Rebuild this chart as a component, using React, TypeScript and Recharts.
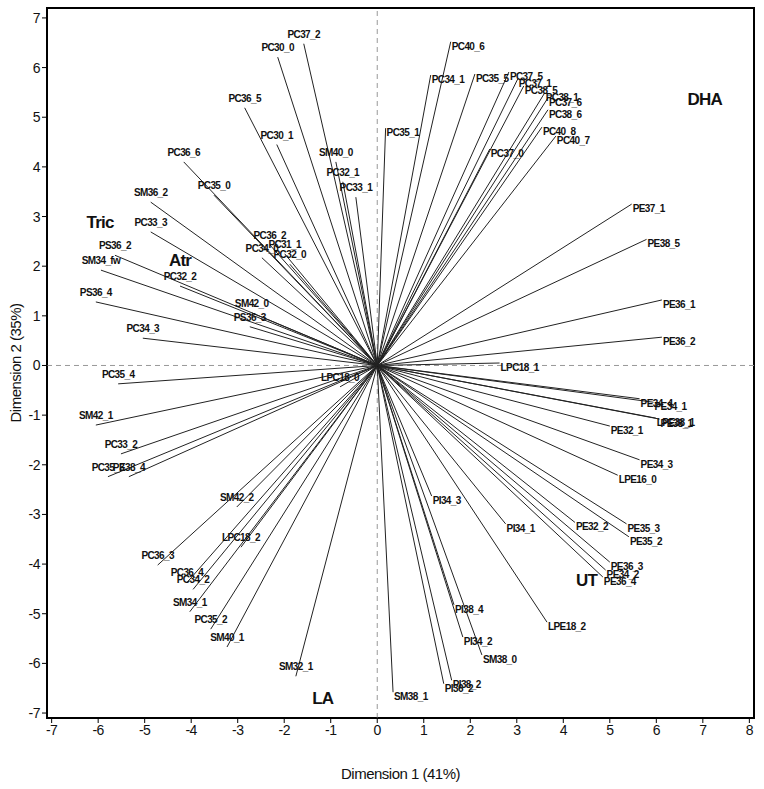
import { ScatterChart, Scatter, XAxis, YAxis, ReferenceLine, ReferenceArea } from 'recharts'

const names = [
  'PC40_6', 'PC34_1', 'PC35_5', 'PC37_5', 'PC37_1', 'PC38_5', 'PC38_1', 'PC37_6', 'PC38_6', 'PC40_8',
  'PC40_7', 'PC37_0', 'PC35_1', 'PE37_1', 'PE38_5', 'PE36_1', 'PE36_2', 'LPC18_1',
  'PE34_4', 'PE34_1', 'LPE38_1', 'PE38_1', 'PE32_1', 'PE34_3', 'LPE16_0', 'PE32_2', 'PE35_3', 'PE35_2',
  'PI34_1', 'PI34_3', 'PE36_3', 'PE34_2', 'PE36_4', 'LPE18_2', 'PI38_4', 'PI34_2', 'SM38_0', 'PI38_2',
  'PI36_2', 'SM38_1',
  'PC35_4', 'LPC18_0', 'SM42_1', 'PC33_2', 'PC35_3', 'PE38_4', 'SM42_2', 'LPC18_2', 'PC36_3', 'PC36_4',
  'PC34_2', 'SM34_1', 'PC35_2', 'SM40_1', 'SM32_1',
  'PC37_2', 'PC30_0', 'PC36_5', 'PC30_1', 'SM40_0', 'PC32_1', 'PC33_1', 'PC36_6', 'PC35_0', 'SM36_2',
  'PC33_3', 'PS36_2', 'SM34_fw', 'PC32_2', 'PS36_4', 'SM42_0', 'PS36_3', 'PC34_3', 'PC36_2', 'PC34_0',
  'PC31_1', 'PC32_0',
]

const dim1 = [
  1.58, 1.15, 2.1, 2.83, 3.02, 3.15, 3.6, 3.67, 3.67, 3.54,
  3.84, 2.42, 0.18, 5.47, 5.79, 6.12, 6.12, 2.63,
  5.64, 5.94, 5.99, 6.07, 5.0, 5.64, 5.17, 4.25, 5.36, 5.41,
  2.76, 1.17, 5.0, 4.91, 4.85, 3.65, 1.65, 1.84, 2.25, 1.6,
  1.43, 0.34,
  -5.57, -0.8, -6.05, -5.51, -5.79, -5.34, -3.02, -2.93, -4.72, -4.09,
  -3.96, -4.03, -3.58, -3.23, -1.75,
  -1.58, -2.14, -2.85, -2.16, -0.89, -0.74, -0.46, -4.16, -3.51, -4.87,
  -4.87, -5.64, -5.94, -4.24, -6.05, -2.7, -2.74, -5.04, -2.31, -2.48,
  -1.99, -1.88,
]

const dim2 = [
  6.52, 5.85, 5.87, 5.91, 5.77, 5.63, 5.49, 5.39, 5.15, 4.8,
  4.62, 4.36, 4.78, 3.25, 2.54, 1.32, 0.57, 0.05,
  -0.67, -0.74, -1.06, -1.08, -1.22, -1.9, -2.21, -3.16, -3.19, -3.45,
  -3.19, -2.63, -3.96, -4.12, -4.26, -5.17, -4.82, -5.47, -5.83, -6.34,
  -6.41, -6.58,
  -0.37, -0.43, -1.2, -1.78, -2.24, -2.24, -2.85, -3.66, -4.02, -4.37,
  -4.51, -4.96, -5.31, -5.67, -6.26,
  6.48, 6.21, 5.19, 4.45, 4.1, 3.7, 3.39, 4.1, 3.43, 3.29,
  2.69, 2.22, 1.92, 1.6, 1.28, 1.06, 0.78, 0.55, 2.43, 2.17,
  2.25, 2.04,
]

const groupNames = ['DHA', 'Tric', 'Atr', 'LA', 'UT']
const groupDim1 = [7.04, -5.96, -4.24, -1.17, 4.5]
const groupDim2 = [5.37, 2.89, 2.13, -6.69, -4.33]

const xTicks = [-7, -6, -5, -4, -3, -2, -1, 0, 1, 2, 3, 4, 5, 6, 7, 8]
const yTicks = [-7, -6, -5, -4, -3, -2, -1, 0, 1, 2, 3, 4, 5, 6, 7]

const FONT = '"Liberation Sans Narrow", "Liberation Sans", Arial, sans-serif'

const points = names.map((name, i) => ({ name, x: dim1[i], y: dim2[i] }))
const groups = groupNames.map((name, i) => ({ name, x: groupDim1[i], y: groupDim2[i] }))

function VarLabel(props: any) {
  const { cx, cy, payload } = props
  if (cx == null || cy == null) return null
  const left = payload.x < 0
  return (
    <text
      x={left ? cx : cx + 1}
      y={left ? cy - 6 : cy + 8}
      textAnchor={left ? 'middle' : 'start'}
      fontSize={10}
      fontWeight="bold"
      fontFamily={FONT}
      letterSpacing={-0.6}
      fill="#111"
    >
      {payload.name}
    </text>
  )
}

function GroupLabel(props: any) {
  const { cx, cy, payload } = props
  if (cx == null || cy == null) return null
  return (
    <text x={cx} y={cy + 6} textAnchor="middle" fontSize={17} fontWeight="bold" fontFamily={FONT} letterSpacing={-0.8} fill="#111">
      {payload.name}
    </text>
  )
}

export default function App() {
  return (
    <div style={{ position: 'absolute', left: 0, top: 0, background: '#fff' }}>
      <ScatterChart width={764} height={789} margin={{ top: 8, right: 10, left: 0, bottom: 0 }}>
        <XAxis
          type="number"
          dataKey="x"
          domain={[-7.1, 8.1]}
          ticks={xTicks}
          allowDataOverflow
          height={71}
          tickSize={5}
          stroke="#000"
          tick={{ fontSize: 14, fill: '#111', fontFamily: FONT, letterSpacing: -0.5 }}
          label={{ value: 'Dimension 1 (41%)', position: 'insideBottom', offset: 10, fontSize: 15, fill: '#111', fontFamily: FONT, letterSpacing: -0.5 }}
        />
        <YAxis
          type="number"
          dataKey="y"
          domain={[-7.1, 7.2]}
          ticks={yTicks}
          allowDataOverflow
          width={47}
          tickSize={5}
          stroke="#000"
          tick={{ fontSize: 14, fill: '#111', fontFamily: FONT, letterSpacing: -0.5 }}
          label={{ value: 'Dimension 2 (35%)', angle: -90, position: 'insideLeft', offset: 16, fontSize: 15, fill: '#111', fontFamily: FONT, letterSpacing: -0.5, style: { textAnchor: 'middle' } }}
        />
        <ReferenceLine x={0} stroke="#999" strokeDasharray="5 4" />
        <ReferenceLine y={0} stroke="#999" strokeDasharray="5 4" />
        {points.map((p) => (
          <ReferenceLine
            key={p.name}
            segment={[{ x: 0, y: 0 }, { x: p.x, y: p.y }]}
            stroke="#222"
            strokeWidth={1}
          />
        ))}
        <ReferenceArea x1={-7.1} x2={8.1} y1={-7.1} y2={7.2} fill="none" stroke="#000" strokeWidth={2} ifOverflow="visible" />
        <Scatter data={points} shape={<VarLabel />} isAnimationActive={false} />
        <Scatter data={groups} shape={<GroupLabel />} isAnimationActive={false} />
      </ScatterChart>
    </div>
  )
}
